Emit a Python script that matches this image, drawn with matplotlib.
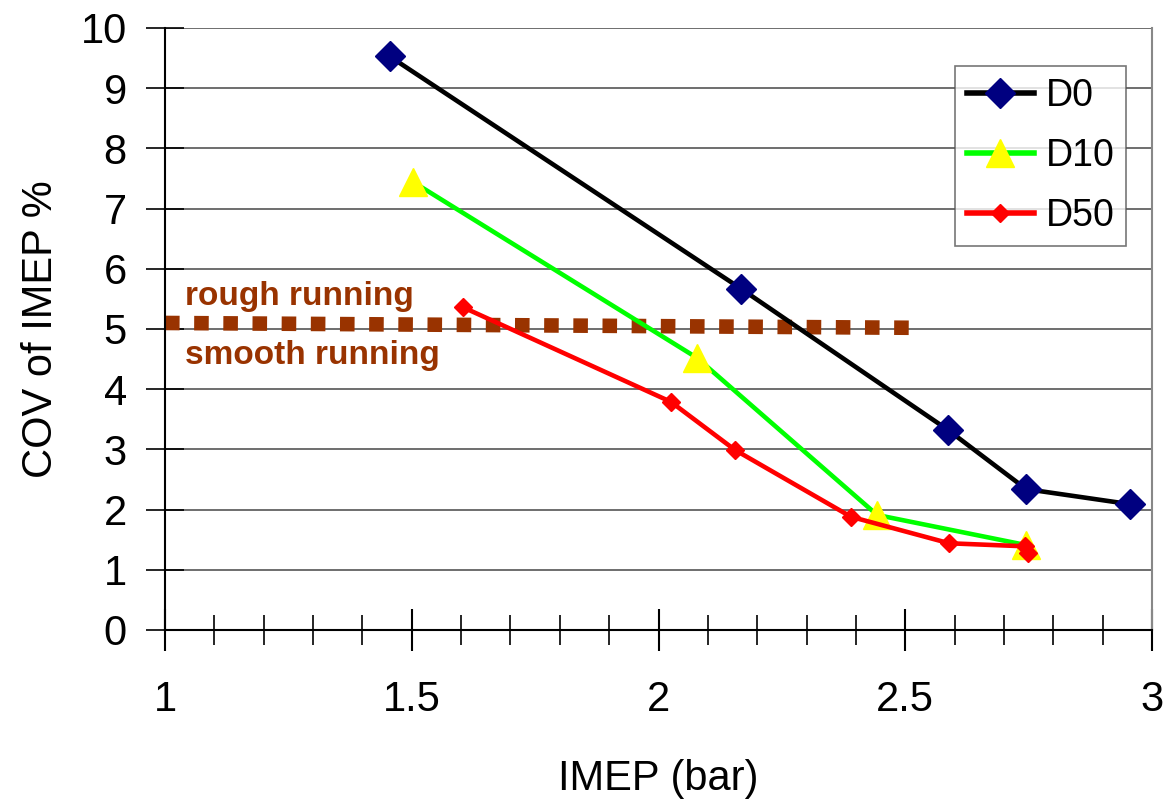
import numpy as np
import matplotlib.pyplot as plt
from matplotlib.ticker import MultipleLocator

plt.rcParams['font.family'] = ['Liberation Sans', 'DejaVu Sans']

d0_x = [1.455, 2.167, 2.587, 2.745, 2.955]
d0_y = [9.53, 5.67, 3.32, 2.34, 2.09]
d10_x = [1.503, 2.078, 2.443, 2.745]
d10_y = [7.44, 4.52, 1.91, 1.41]
d50_x = [1.604, 2.025, 2.155, 2.39, 2.589, 2.742, 2.749]
d50_y = [5.36, 3.79, 2.99, 1.88, 1.44, 1.39, 1.28]
limit_x = [1.0, 2.51]
limit_y = [5.10, 5.02]

brown = '#993300'

fig = plt.figure(figsize=(11.71, 8.09), dpi=100)
ax = fig.add_axes([0.1409, 0.2213, 0.8429, 0.7441])

ax.set_xlim(1, 3)
ax.set_ylim(0, 10)

for y in range(1, 11):
    ax.axhline(y, color='#555555', lw=1.2, zorder=1)

ax.plot(limit_x, limit_y, color=brown, lw=10.5, linestyle=(0, (1.0, 1.0)),
        solid_capstyle='butt', dash_capstyle='butt', zorder=2)
ax.text(1.04, 5.40, 'rough running', color=brown, fontsize=24, fontweight='bold')
ax.text(1.04, 4.42, 'smooth running', color=brown, fontsize=24, fontweight='bold')

ax.plot(d0_x, d0_y, color='black', lw=3.3, marker='D', ms=15,
        mfc='#000080', mec='#000080', label='D0', zorder=4)
ax.plot(d10_x, d10_y, color='#00ff00', lw=3.3, marker='^', ms=20,
        mfc='#ffff00', mec='#ffff00', label='D10', zorder=3)
ax.plot(d50_x, d50_y, color='#ff0000', lw=3.3, marker='D', ms=9,
        mfc='#ff0000', mec='#ff0000', label='D50', zorder=5)

ax.xaxis.set_major_locator(MultipleLocator(0.5))
ax.xaxis.set_minor_locator(MultipleLocator(0.1))
ax.yaxis.set_major_locator(MultipleLocator(1))
ax.set_xticks([1, 1.5, 2, 2.5, 3])
ax.set_xticklabels(['1', '1.5', '2', '2.5', '3'])
ax.tick_params(axis='x', which='major', direction='inout', length=30, width=1.5,
               labelsize=30, pad=21)
ax.tick_params(axis='x', which='minor', direction='inout', length=21, width=1.2)
ax.tick_params(axis='y', which='major', direction='inout', length=28, width=1.2,
               labelsize=30, pad=13.5)

ax.spines['top'].set_visible(False)
ax.spines['right'].set_color('#888888')
ax.spines['right'].set_linewidth(1.5)
ax.spines['left'].set_linewidth(1.5)
ax.spines['bottom'].set_linewidth(1.5)

ax.set_xlabel('IMEP (bar)', fontsize=30, labelpad=28)
ax.set_ylabel('COV of IMEP %', fontsize=30, labelpad=14)

leg = ax.legend(loc='upper right', bbox_to_anchor=(0.974, 0.937), fontsize=27,
                frameon=True, fancybox=False, edgecolor='#555555',
                handlelength=1.8, handletextpad=0.3, labelspacing=0.64,
                borderpad=0.32, borderaxespad=0)
leg.get_frame().set_linewidth(1.2)
for line in leg.get_lines():
    line.set_linewidth(4)

fig.savefig('out.png', dpi=100)
